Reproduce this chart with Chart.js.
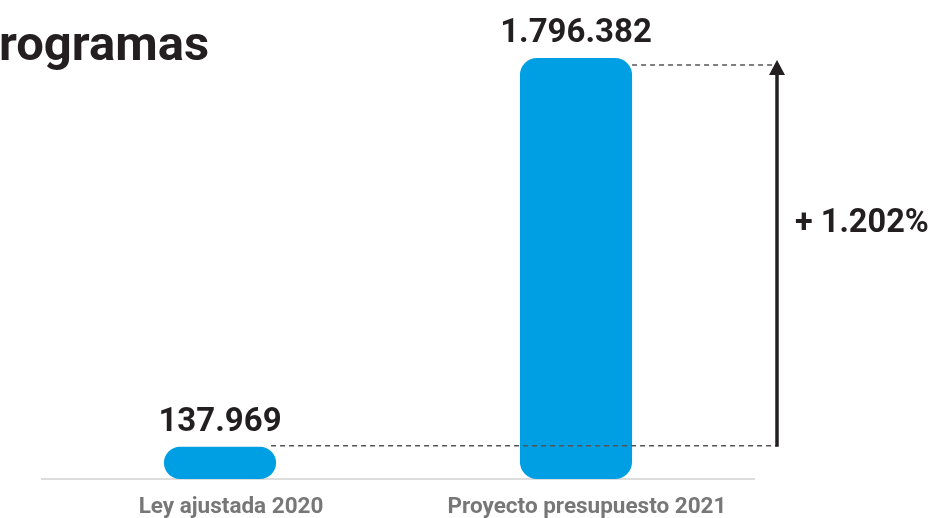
<!DOCTYPE html>
<html lang="es">
<head>
  <meta charset="UTF-8" />
  <title>Programas</title>
  <script src="https://cdn.jsdelivr.net/npm/chart.js"></script>
  <style>
    body { margin: 0; background: #ffffff; }
    .wrap { width: 934px; height: 518px; }
  </style>
</head>
<body>
  <div class="wrap"><canvas id="chart"></canvas></div>
  <script>
    const categorias = ['Ley ajustada 2020', 'Proyecto presupuesto 2021'];
    const valores = [137969, 1796382];
    const etiquetas = ['137.969', '1.796.382'];
    const variacion = '+ 1.202%';
    const titulo = 'rogramas';

    const AZUL = '#009fe3';
    const NEGRO = '#231f20';

    // dibuja titulo, valores, lineas punteadas y flecha
    const extras = {
      id: 'extras',
      afterDatasetsDraw(chart) {
        const ctx = chart.ctx;
        const bars = chart.getDatasetMeta(0).data;
        ctx.save();

        ctx.fillStyle = NEGRO;
        ctx.font = 'bold 49px Roboto';
        ctx.textAlign = 'left';
        ctx.textBaseline = 'alphabetic';
        ctx.fillText(titulo, -1, 60);

        ctx.font = 'bold 33px Roboto';
        ctx.textAlign = 'center';
        bars.forEach((b, i) => ctx.fillText(etiquetas[i], b.x, b.y - 16));

        const xFlecha = 777;
        const y0 = bars[0].y - 1;
        const y1 = bars[1].y + 7;

        ctx.strokeStyle = '#555';
        ctx.lineWidth = 1.5;
        ctx.setLineDash([5, 4]);
        ctx.beginPath();
        ctx.moveTo(bars[0].x + bars[0].width / 2 - 5, y0);
        ctx.lineTo(xFlecha, y0);
        ctx.moveTo(bars[1].x + bars[1].width / 2, y1);
        ctx.lineTo(xFlecha, y1);
        ctx.stroke();
        ctx.setLineDash([]);

        ctx.strokeStyle = NEGRO;
        ctx.lineWidth = 3.5;
        ctx.beginPath();
        ctx.moveTo(xFlecha, y0 + 1);
        ctx.lineTo(xFlecha, y1 + 8);
        ctx.stroke();
        ctx.fillStyle = NEGRO;
        ctx.beginPath();
        ctx.moveTo(xFlecha, y1 - 5);
        ctx.lineTo(xFlecha - 8, y1 + 10);
        ctx.lineTo(xFlecha + 8, y1 + 10);
        ctx.closePath();
        ctx.fill();

        ctx.font = 'bold 32.5px Roboto';
        ctx.textAlign = 'left';
        ctx.fillText(variacion, 795, 232);
        ctx.restore();
      }
    };

    new Chart(document.getElementById('chart'), {
      type: 'bar',
      data: {
        labels: categorias,
        datasets: [{
          data: valores,
          backgroundColor: AZUL,
          borderRadius: 17,
          borderSkipped: false,
          barPercentage: 0.315,
          categoryPercentage: 1
        }]
      },
      options: {
        responsive: true,
        maintainAspectRatio: false,
        animation: false,
        layout: { padding: { left: 42, right: 180, top: 58, bottom: -10 } },
        plugins: { legend: { display: false }, tooltip: { enabled: false } },
        scales: {
          x: {
            grid: { display: false },
            border: { display: true, color: '#dddddd', width: 2 },
            ticks: {
              color: '#777777',
              font: { family: 'Roboto', weight: 'bold', size: 22.5 },
              padding: 7,
              labelOffset: 11
            }
          },
          y: {
            display: false,
            min: 0,
            max: 1796382
          }
        }
      },
      plugins: [extras]
    });
  </script>
</body>
</html>
